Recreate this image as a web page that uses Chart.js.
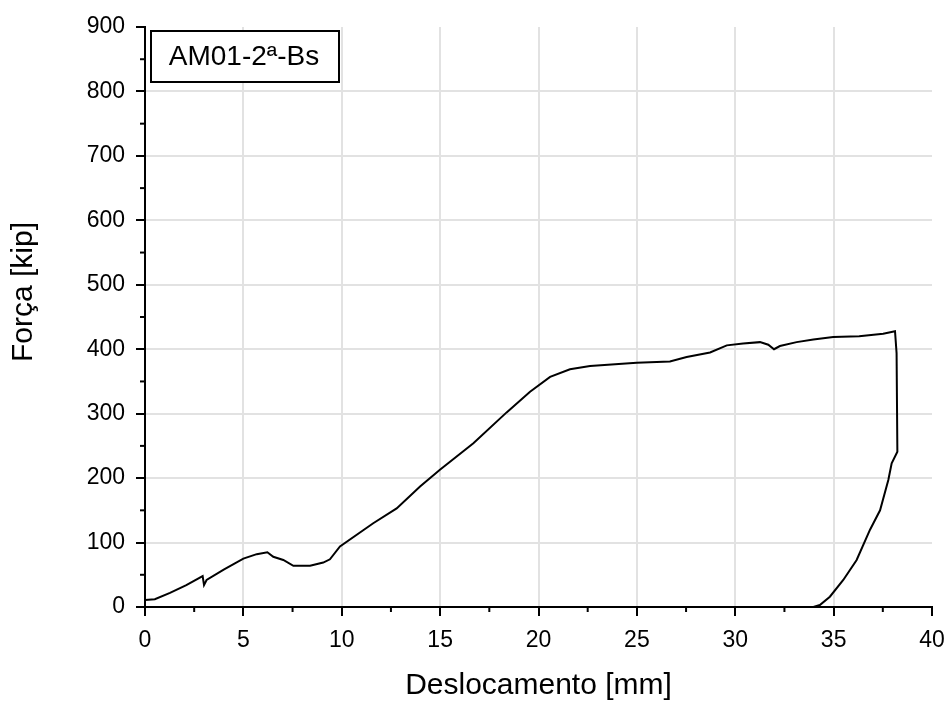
<!DOCTYPE html>
<html>
<head>
<meta charset="utf-8">
<script src="https://cdn.jsdelivr.net/npm/chart.js@4.4.1/dist/chart.umd.min.js"></script>
<style>
  html, body { margin: 0; padding: 0; background: #fff; }
  #wrap { width: 949px; height: 704px; }
</style>
</head>
<body>
<div id="wrap"><canvas id="chart" width="949" height="704"></canvas></div>
<script>
// Displacement [mm] and force [kip]
const disp = [0, 0.5, 1.27, 2.1, 2.93, 3.0, 3.13, 4.0, 5.0, 5.68, 6.22, 6.52, 7.03, 7.54, 8.39, 9.06, 9.4, 9.91,
  11.6, 12.79, 13.98, 14.99, 16.69, 18.38, 19.57, 20.59, 21.6, 22.62, 24.99, 26.68, 27.53, 28.72, 29.57,
  30.4, 31.26, 31.68, 31.97, 32.27, 33.12, 33.97, 34.98, 36.3, 37.52, 38.12,
  38.2, 38.24, 37.95, 37.78, 37.36, 36.85, 36.17, 35.49, 34.81, 34.3, 33.97];
const force = [11, 12, 22, 34, 48, 34, 42, 58, 75, 82, 85, 78, 73, 64, 64, 69, 74, 94,
  130, 153, 187, 213, 254, 302, 334, 357, 369, 374, 379, 381, 388, 395, 406,
  409, 411, 407, 400, 405, 411, 415, 419, 420, 424, 428,
  394, 241, 223, 197, 150, 120, 73, 42, 16, 3, 0];

const xTicks = [0, 5, 10, 15, 20, 25, 30, 35, 40];
const yTicks = [0, 100, 200, 300, 400, 500, 600, 700, 800, 900];
const label = 'AM01-2ª-Bs';
const xTitle = 'Deslocamento [mm]';
const yTitle = 'Força [kip]';

const points = disp.map((d, i) => ({ x: d, y: force[i] }));
const fontFamily = '"Liberation Sans", Arial, sans-serif';

// minor ticks (half steps) drawn through the scales
const minorTicks = {
  id: 'minorTicks',
  afterDraw(chart) {
    const { ctx, scales: { x, y } } = chart;
    ctx.save();
    ctx.strokeStyle = '#000';
    ctx.lineWidth = 2;
    for (let i = 0; i < xTicks.length - 1; i++) {
      const px = x.getPixelForValue((xTicks[i] + xTicks[i + 1]) / 2);
      ctx.beginPath(); ctx.moveTo(px, y.bottom); ctx.lineTo(px, y.bottom + 5); ctx.stroke();
    }
    for (let i = 0; i < yTicks.length - 1; i++) {
      const py = y.getPixelForValue((yTicks[i] + yTicks[i + 1]) / 2);
      ctx.beginPath(); ctx.moveTo(x.left, py); ctx.lineTo(x.left - 5, py); ctx.stroke();
    }
    ctx.restore();
  }
};

// label box in the top-left corner + y title (sits a bit above the axis middle)
const extras = {
  id: 'extras',
  afterDraw(chart) {
    const { ctx, chartArea } = chart;
    ctx.save();
    ctx.strokeStyle = '#000';
    ctx.lineWidth = 2;
    ctx.fillStyle = '#fff';
    const bx = chartArea.left + 6, by = chartArea.top + 4, bw = 188, bh = 51;
    ctx.fillRect(bx, by, bw, bh);
    ctx.strokeRect(bx, by, bw, bh);
    ctx.fillStyle = '#000';
    ctx.font = '28px ' + fontFamily;
    ctx.textAlign = 'center';
    ctx.textBaseline = 'middle';
    ctx.fillText(label, bx + bw / 2 - 1, by + bh / 2 + 1);

    ctx.font = '30px ' + fontFamily;
    ctx.translate(24, (chartArea.top + chartArea.bottom) / 2 - 25);
    ctx.rotate(-Math.PI / 2);
    ctx.fillText(yTitle, 0, 0);
    ctx.restore();
  }
};

new Chart(document.getElementById('chart').getContext('2d'), {
  type: 'scatter',
  data: {
    datasets: [{
      data: points,
      showLine: true,
      borderColor: '#000',
      borderWidth: 2,
      pointRadius: 0,
      tension: 0
    }]
  },
  options: {
    responsive: false,
    animation: false,
    layout: { padding: { left: 0, top: 27, right: 17, bottom: 0 } },
    plugins: { legend: { display: false }, tooltip: { enabled: false } },
    scales: {
      x: {
        type: 'linear', min: 0, max: 40,
        afterFit: s => { s.height = 97; s.paddingLeft = 0; s.paddingRight = 0; },
        afterBuildTicks: s => { s.ticks = xTicks.map(v => ({ value: v })); },
        ticks: { color: '#000', font: { family: fontFamily, size: 23 }, padding: 11, maxRotation: 0 },
        grid: {
          color: c => (c.tick && (c.tick.value === 0 || c.tick.value === 40)) ? 'rgba(0,0,0,0)' : '#e2e2e2',
          lineWidth: 2,
          tickColor: '#000', tickLength: 9, tickWidth: 2
        },
        border: { color: '#000', width: 2 },
        title: { display: true, text: xTitle, color: '#000', font: { family: fontFamily, size: 30 }, padding: { bottom: 0 } }
      },
      y: {
        type: 'linear', min: 0, max: 900,
        afterFit: s => { s.width = 145; s.paddingTop = 0; s.paddingBottom = 0; },
        afterBuildTicks: s => { s.ticks = yTicks.map(v => ({ value: v })); },
        ticks: { color: '#000', font: { family: fontFamily, size: 23 }, padding: 11 },
        grid: {
          color: c => (c.tick && (c.tick.value === 0 || c.tick.value === 900)) ? 'rgba(0,0,0,0)' : '#e2e2e2',
          lineWidth: 2,
          tickColor: '#000', tickLength: 9, tickWidth: 2
        },
        border: { color: '#000', width: 2 }
      }
    }
  },
  plugins: [minorTicks, extras]
});
</script>
</body>
</html>
